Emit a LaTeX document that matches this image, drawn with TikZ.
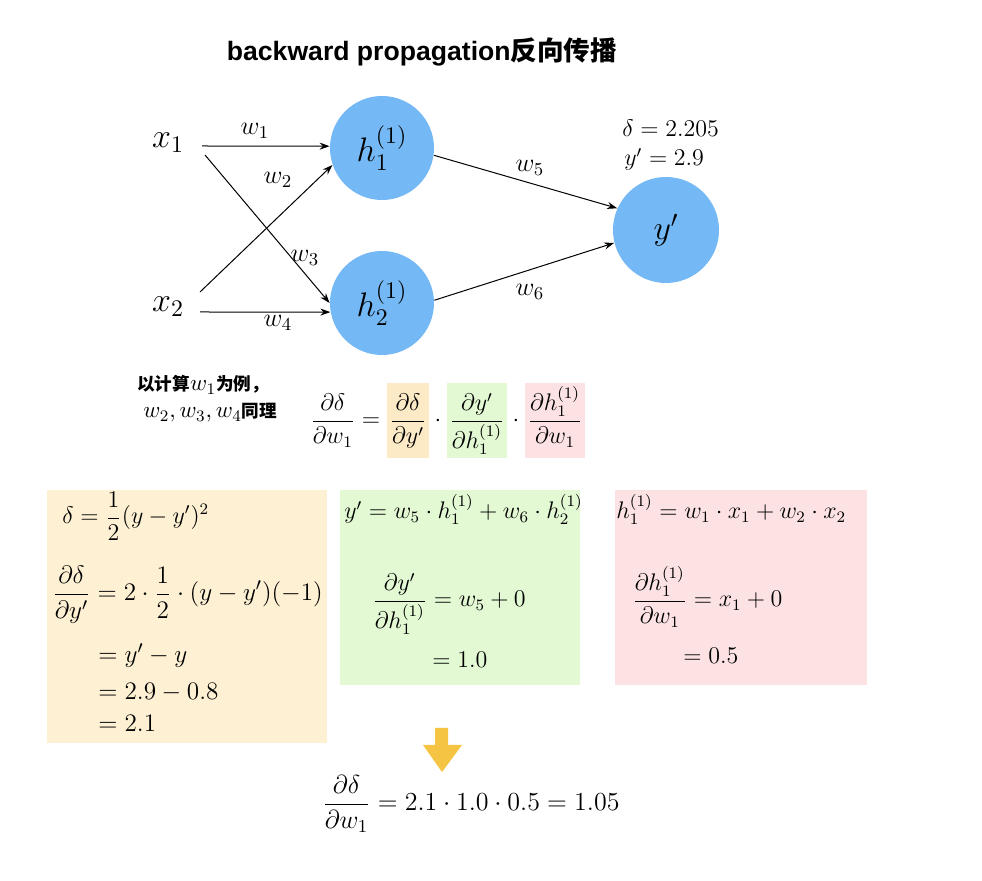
\RequirePackage{fix-cm}
\documentclass[tikz,border=0pt]{standalone}
\usepackage{amsmath}
\usepackage{fontspec}
\setsansfont{Liberation Sans}
\newfontfamily\cjk{Noto Sans CJK SC}
\usetikzlibrary{arrows.meta}
\definecolor{blueC}{RGB}{116,185,245}
\definecolor{orB}{RGB}{253,240,211}
\definecolor{orH}{RGB}{252,234,198}
\definecolor{grB}{RGB}{226,249,212}
\definecolor{pkB}{RGB}{252,226,226}
\definecolor{yel}{RGB}{244,196,66}
\newcommand\hlbox[2]{{\setlength\fboxsep{1.5pt}\colorbox{#1}{$\displaystyle\vphantom{\frac{\partial h_1^{(1)}}{\partial h_1^{(1)}}}#2$}}}
\begin{document}
\begin{tikzpicture}[x=0.5pt,y=-0.5pt,
  arr/.style={-{Stealth[length=5pt,width=3.5pt]}, line width=0.5pt},
  neuron/.style={circle, fill=blueC, minimum size=52pt, inner sep=0pt, font=\fontsize{17}{19}\selectfont},
  big/.style={font=\fontsize{17}{19}\selectfont},
  wl/.style={font=\fontsize{13}{15}\selectfont, inner sep=0pt},
  fm/.style={font=\fontsize{12}{14}\selectfont, inner sep=0pt, anchor=base west},
  cn/.style={font=\fontsize{8.8}{10}\selectfont, inner sep=0pt, anchor=west}]
\useasboundingbox (0,0) rectangle (982,881);
\fill[white] (0,0) rectangle (982,881);

% title
\node[font=\fontsize{13.3}{15}\selectfont] (title) at (422,52) {\sffamily\bfseries backward propagation\cjk\bfseries 反向传播};

% network
\node[big] (x1) at (168,143) {$x_1$};
\node[big] (x2) at (168,307) {$x_2$};
\node[neuron] (h1) at (382,148) {$h_1^{(1)}$};
\node[neuron] (h2) at (382,303) {$h_2^{(1)}$};
\node[neuron, minimum size=53pt] (yp) at (666,230) {$y'$};

\coordinate (s1a) at (202,146);
\coordinate (s1b) at (205,155);
\coordinate (s2a) at (200,292);
\coordinate (s2b) at (200,312);

\draw[arr] (s1a) -- (h1.178);
\draw[arr] (s1b) -- (h2.180);
\draw[arr] (s2a) -- (h1.199);
\draw[arr] (s2b) -- (h2.190);
\draw[arr] (h1.-8) -- (yp.156);
\draw[arr] (h2.3) -- (yp.194);

\node[wl] (lw1) at (255,131) {$w_1$};
\node[wl] (lw2) at (278,180) {$w_2$};
\node[wl] (lw3) at (305,258) {$w_3$};
\node[wl] (lw4) at (278,323) {$w_4$};
\node[wl] (lw5) at (530,168) {$w_5$};
\node[wl] (lw6) at (530,292) {$w_6$};

\node[fm, font=\fontsize{12}{14}\selectfont] (dl) at (622,137) {$\delta = 2.205$};
\node[fm, font=\fontsize{12}{14}\selectfont] (yl) at (624,166) {$y' = 2.9$};

% example text
\node[cn] (c1) at (137,385) {\cjk\bfseries 以计算{\fontsize{11.5}{13}\selectfont$w_1$}为例，};
\node[cn] (c2) at (143,413) {{\fontsize{11.5}{13}\selectfont$w_2, w_3, w_4$}\cjk\bfseries 同理};

% main equation
\node[fm] (maineq) at (310,427) {$\displaystyle \frac{\partial\delta}{\partial w_1} = \hlbox{orH}{\frac{\partial\delta}{\partial y'}}\cdot\hlbox{grB}{\frac{\partial y'}{\partial h_1^{(1)}}}\cdot\hlbox{pkB}{\frac{\partial h_1^{(1)}}{\partial w_1}}$};

% boxes
\fill[orB] (47,490) rectangle (327,743);
\fill[grB] (340,490) rectangle (580,685);
\fill[pkB] (615,490) rectangle (867,685);

% orange box content
\node[fm] (o1) at (62,524) {$\displaystyle \delta = \frac{1}{2}(y-y')^2$};
\node[fm, font=\fontsize{12.6}{14}\selectfont] (o2) at (52,601) {$\displaystyle \frac{\partial\delta}{\partial y'} = 2\cdot\frac{1}{2}\cdot(y-y')(-1)$};
\node[fm, font=\fontsize{12.6}{14}\selectfont] (o3) at (98,663) {$= y' - y$};
\node[fm, font=\fontsize{12.6}{14}\selectfont] (o4) at (98,700) {$= 2.9 - 0.8$};
\node[fm, font=\fontsize{12.6}{14}\selectfont] (o5) at (98,732) {$= 2.1$};

% green box content
\node[fm] (g1) at (344,519) {$y' = w_5\cdot h_1^{(1)} + w_6\cdot h_2^{(1)}$};
\node[fm] (g2) at (372,607) {$\displaystyle \frac{\partial y'}{\partial h_1^{(1)}} = w_5 + 0$};
\node[fm] (g3) at (432,668) {$= 1.0$};

% pink box content
\node[fm] (p1) at (616,519) {$h_1^{(1)} = w_1\cdot x_1 + w_2\cdot x_2$};
\node[fm] (p2) at (632,607) {$\displaystyle \frac{\partial h_1^{(1)}}{\partial w_1} = x_1 + 0$};
\node[fm] (p3) at (683,664) {$= 0.5$};

% yellow arrow
\fill[yel] (435,728) -- (448,728) -- (448,745) -- (462,745) -- (442,772) -- (423,745) -- (435,745) -- cycle;

% final
\node[fm, font=\fontsize{13}{15}\selectfont] (final) at (322,811) {$\displaystyle \frac{\partial\delta}{\partial w_1} = 2.1\cdot 1.0\cdot 0.5 = 1.05$};
\end{tikzpicture}
\end{document}
